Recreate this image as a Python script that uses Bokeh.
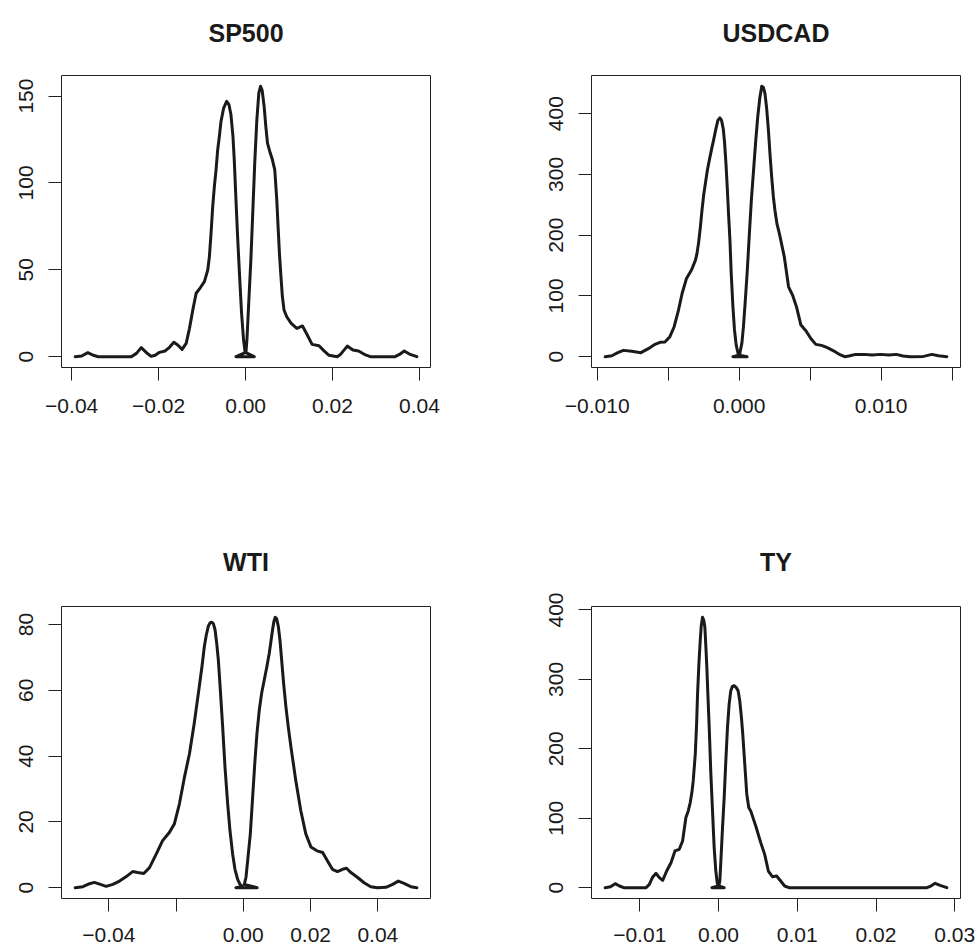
from bokeh.plotting import figure
from bokeh.layouts import column, row
from bokeh.models import FixedTicker, Range1d
from bokeh.core.properties import value
from bokeh.embed import file_html
from bokeh.resources import INLINE

# ---------------- data ----------------
titles = ["SP500", "USDCAD", "WTI", "TY"]

sp500_x = [-0.0392, -0.0377, -0.0363, -0.0350, -0.0339, -0.0263, -0.0251, -0.0240, -0.0228, -0.0217,
           -0.0208, -0.0198, -0.0185, -0.0175, -0.0165, -0.0156, -0.0146, -0.01366, -0.0129, -0.01214,
           -0.01137, -0.01038, -0.00947, -0.0087, -0.00832, -0.00794, -0.00756, -0.00718, -0.00679, -0.00641,
           -0.00603, -0.00565, -0.00504, -0.00435, -0.00382, -0.00336, -0.0029, -0.0026, -0.00221, -0.00183,
           -0.00137, -0.00092, -0.00046, -0.00008, -0.0022, 0.0020, 0.00008,
           0.00031, 0.00076, 0.00122, 0.00168, 0.00214, 0.0026, 0.00305, 0.00344, 0.00382, 0.00427,
           0.00466, 0.00504, 0.00557, 0.00618, 0.00672, 0.00718, 0.00748, 0.00779, 0.00809, 0.00847,
           0.00885, 0.00947, 0.0105, 0.0118, 0.0131, 0.0142, 0.0153, 0.0169, 0.0180, 0.0192,
           0.0211, 0.0218, 0.0234, 0.0247, 0.0260, 0.0276, 0.0287, 0.0344, 0.0354, 0.0365, 0.0377, 0.0394]
sp500_y = [0.0, 0.4, 2.3, 0.8, 0.0, 0.0, 1.9, 5.2, 2.3, 0.2,
           0.8, 2.5, 3.3, 5.4, 8.3, 6.7, 4.2, 7.7, 16.3, 26.9,
           36.5, 39.8, 43.2, 49.9, 57.6, 71.1, 86.4, 97.9, 107.5, 119.1,
           126.8, 135.4, 143.1, 146.9, 145.0, 139.2, 126.8, 113.3, 90.3, 69.1,
           46.1, 25.0, 9.6, 2.3, 0.0, 0.0, 2.3,
           9.6, 32.6, 55.7, 84.5, 113.3, 136.4, 151.7, 155.6, 153.3, 144.0,
           132.5, 122.9, 118.1, 113.3, 107.5, 90.3, 74.9, 59.5, 48.0, 34.6,
           26.9, 23.0, 19.2, 16.3, 17.7, 12.5, 7.1, 6.3, 3.5, 0.8,
           0.0, 1.2, 6.1, 3.8, 3.3, 1.0, 0.0, 0.0, 1.3, 3.3, 1.5, 0.0]

usdcad_x = [-0.00944, -0.00897, -0.00855, -0.00815, -0.00757, -0.00692, -0.0064, -0.00593, -0.00558, -0.00523,
            -0.00488, -0.00458, -0.0043, -0.00402, -0.00371, -0.00336, -0.00308, -0.00297, -0.00285, -0.00273,
            -0.00262, -0.0025, -0.00238, -0.00224, -0.00208, -0.00192, -0.00178, -0.00164, -0.0015, -0.00136,
            -0.00124, -0.00112, -0.00103, -0.00093, -0.00084, -0.00075, -0.00065, -0.00056, -0.00044, -0.00033,
            -0.00021, -0.00009, -0.00002, -0.00044, 0.00056, 0.00003,
            0.00009, 0.00019, 0.0003, 0.00042, 0.00056, 0.00072, 0.00086, 0.00103, 0.00117, 0.00131,
            0.00145, 0.00159, 0.00171, 0.00182, 0.00194, 0.00206, 0.00217, 0.00229, 0.00241, 0.00252,
            0.00266, 0.00283, 0.00318, 0.00348, 0.00376, 0.00404, 0.00435, 0.0047, 0.00505, 0.0054,
            0.0058, 0.00621, 0.00668, 0.0071, 0.00743, 0.00773, 0.0082, 0.00879, 0.00937, 0.00995,
            0.01054, 0.01107, 0.01154, 0.01206, 0.01299, 0.01357, 0.01404, 0.01463]
usdcad_y = [0.0, 1.6, 6.6, 10.4, 8.8, 6.6, 13.2, 20.3, 23.6, 24.1,
            32.9, 49.3, 74.0, 104.0, 128.8, 142.5, 158.9, 170.0, 189.0, 214.0,
            241.0, 266.0, 285.0, 307.0, 326.0, 344.0, 359.0, 375.0, 389.0, 393.0,
            389.0, 375.0, 353.0, 318.0, 279.0, 236.0, 192.0, 137.0, 82.0, 44.0,
            19.0, 6.6, 2.5, 0.0, 0.0, 2.5,
            11.0, 22.0, 49.0, 88.0, 137.0, 203.0, 258.0, 312.0, 356.0, 395.0,
            425.0, 445.0, 443.0, 433.0, 408.0, 373.0, 334.0, 296.0, 263.0, 241.0,
            219.0, 203.0, 164.4, 115.0, 101.4, 82.0, 52.0, 42.7, 30.0, 20.3,
            18.6, 14.8, 9.3, 3.3, 0.0, 1.1, 3.8, 3.8, 2.7, 3.8,
            2.7, 3.8, 1.1, 0.0, 0.5, 3.8, 1.6, 0.0]

wti_x = [-0.05, -0.0477, -0.0457, -0.0443, -0.0425, -0.0408, -0.0388, -0.0368, -0.0349, -0.0329,
         -0.0314, -0.0296, -0.0279, -0.0259, -0.024, -0.022, -0.0205, -0.019, -0.0175, -0.016,
         -0.0146, -0.0131, -0.01228, -0.01158, -0.01099, -0.0104, -0.0099, -0.00941, -0.00891, -0.00842,
         -0.00792, -0.00743, -0.00683, -0.00614, -0.00545, -0.00465, -0.00396, -0.00317, -0.00248, -0.00168,
         -0.00099, -0.0003, -0.0022, 0.0041, 0.0003,
         0.00079, 0.00139, 0.00208, 0.00277, 0.00347, 0.00406, 0.00475, 0.00545, 0.00624, 0.00703,
         0.00772, 0.00822, 0.00871, 0.00911, 0.0095, 0.0099, 0.0104, 0.01089, 0.01139, 0.01198,
         0.01267, 0.01337, 0.01416, 0.0156, 0.0171, 0.0186, 0.0201, 0.0219, 0.0236, 0.025,
         0.0265, 0.028, 0.0295, 0.0307, 0.032, 0.034, 0.0359, 0.0379, 0.0399, 0.0424,
         0.0444, 0.0461, 0.0478, 0.0498, 0.0516]
wti_y = [0.0, 0.3, 1.2, 1.6, 1.0, 0.4, 1.0, 2.0, 3.3, 4.9,
         4.6, 4.3, 6.1, 10.2, 14.3, 16.8, 19.4, 25.5, 33.6, 40.8,
         49.9, 61.1, 67.3, 73.4, 76.9, 79.5, 80.5, 80.7, 80.3, 78.5,
         74.4, 69.3, 60.1, 48.9, 36.7, 25.5, 17.3, 10.2, 5.6, 2.5,
         1.0, 0.4, 0.0, 0.0, 1.0,
         3.1, 9.2, 16.3, 27.5, 38.7, 46.9, 54.0, 59.1, 63.2, 67.3,
         71.3, 74.9, 78.5, 81.0, 82.2, 81.8, 79.5, 75.4, 69.3, 62.2,
         55.0, 48.9, 42.8, 32.6, 23.4, 16.3, 12.4, 11.2, 10.7, 8.2,
         5.6, 4.9, 5.6, 5.9, 4.6, 3.1, 1.5, 0.3, 0.0, 0.1,
         1.0, 2.0, 1.3, 0.3, 0.0]

ty_x = [-0.01439, -0.01371, -0.01312, -0.01257, -0.01203, -0.0092, -0.00878, -0.00835, -0.00793, -0.00751,
        -0.00709, -0.00658, -0.00603, -0.00553, -0.00498, -0.00456, -0.00414, -0.00384, -0.00359, -0.00338,
        -0.00321, -0.00295, -0.00278, -0.00266, -0.00249, -0.00232, -0.00219, -0.00203, -0.00186, -0.00173,
        -0.0016, -0.00148, -0.00135, -0.00118, -0.00097, -0.00076, -0.00055, -0.00034, -0.00017, -0.00004,
        -0.00084, 0.00072, 0.00004,
        0.00017, 0.0003, 0.00051, 0.00072, 0.00093, 0.00114, 0.00135, 0.00156, 0.00177, 0.00198,
        0.00224, 0.00249, 0.0027, 0.00291, 0.00308, 0.00325, 0.00342, 0.00359, 0.00384, 0.00409,
        0.00473, 0.00536, 0.00586, 0.00633, 0.00684, 0.00738, 0.00789, 0.0084, 0.00895, 0.02646,
        0.02696, 0.02751, 0.02814, 0.02899]
ty_y = [0.0, 1.4, 5.8, 2.4, 0.0, 0.0, 4.8, 15.4, 20.7, 14.4,
        10.6, 24.0, 36.0, 52.9, 55.3, 67.3, 101.0, 110.6, 122.6, 137.0,
        153.8, 192.3, 235.6, 278.8, 322.1, 355.8, 377.4, 389.4, 384.6, 375.0,
        346.2, 317.3, 278.8, 230.8, 163.5, 110.6, 57.7, 24.0, 7.2, 2.5,
        0.0, 0.0, 2.5,
        9.6, 38.5, 86.5, 129.8, 182.7, 230.8, 264.4, 283.7, 289.9, 290.9,
        288.5, 283.7, 269.2, 245.2, 221.2, 192.3, 163.5, 134.6, 115.4, 110.6,
        88.9, 64.9, 48.0, 24.0, 15.9, 16.8, 9.6, 2.4, 0.0, 0.0,
        2.4, 6.3, 3.4, 0.0]

# x ticks and their labels ("" = tick drawn without a label)
sp500_xticks = [-0.04, -0.02, 0.0, 0.02, 0.04]
sp500_xlabels = ["\u22120.04", "\u22120.02", "0.00", "0.02", "0.04"]
usdcad_xticks = [-0.010, -0.005, 0.0, 0.005, 0.010, 0.015]
usdcad_xlabels = ["\u22120.010", "", "0.000", "", "0.010", ""]
wti_xticks = [-0.04, -0.02, 0.0, 0.02, 0.04]
wti_xlabels = ["\u22120.04", "", "0.00", "0.02", "0.04"]
ty_xticks = [-0.01, 0.0, 0.01, 0.02, 0.03]
ty_xlabels = ["\u22120.01", "0.00", "0.01", "0.02", "0.03"]

sp500_yticks = [0, 50, 100, 150]
usdcad_yticks = [0, 100, 200, 300, 400]
wti_yticks = [0, 20, 40, 60, 80]
ty_yticks = [0, 100, 200, 300, 400]

# ---------------- styling ----------------
FONT = "Liberation Sans"
INK = "#1a1a1a"
FW, FH = 369, 292
TITLE_H = 45


def pad(vals):
    lo, hi = min(vals), max(vals)
    d = (hi - lo) * 0.04
    return lo - d, hi + d


def title_strip(text, left, right, baseline_from_top):
    """A thin figure above a panel that carries its bold centred title."""
    t = figure(frame_width=FW, frame_height=TITLE_H,
               min_border_left=left, min_border_right=right,
               min_border_top=0, min_border_bottom=0,
               x_range=Range1d(0, 1), y_range=Range1d(0, TITLE_H),
               x_axis_location=None, y_axis_location=None,
               output_backend="svg", toolbar_location=None, tools="",
               background_fill_color="white", border_fill_color="white")
    t.outline_line_color = None
    t.grid.visible = False
    t.text(x=[0.5], y=[TITLE_H - baseline_from_top], text=[text],
           text_align="center", text_baseline="alphabetic",
           text_font=value(FONT), text_font_size=value("25px"),
           text_font_style=value("bold"), text_color=INK)
    return t


def panel(xs, ys, xticks, xlabels, yticks, left, right, top, bottom, xstandoff):
    x0, x1 = pad(xs)
    y0, y1 = pad(ys)
    p = figure(frame_width=FW, frame_height=FH,
               min_border_left=left, min_border_right=right,
               min_border_top=top, min_border_bottom=bottom,
               x_range=Range1d(x0, x1), y_range=Range1d(y0, y1),
               output_backend="svg", toolbar_location=None, tools="",
               background_fill_color="white", border_fill_color="white")

    p.outline_line_color = "#222222"
    p.outline_line_width = 1
    p.outline_line_alpha = 1.0
    p.grid.visible = False

    for ax in (p.xaxis[0], p.yaxis[0]):
        ax.axis_line_color = None
        ax.major_tick_line_color = "#222222"
        ax.major_tick_line_width = 1
        ax.major_tick_in = 0
        ax.major_tick_out = 13
        ax.minor_tick_line_color = None
        ax.major_label_text_font = FONT
        ax.major_label_text_font_size = "21px"
        ax.major_label_text_color = INK

    p.xaxis.ticker = FixedTicker(ticks=xticks)
    p.xaxis.major_label_overrides = {t: l for t, l in zip(xticks, xlabels)}
    p.xaxis.major_label_standoff = xstandoff

    p.yaxis.ticker = FixedTicker(ticks=yticks)
    p.yaxis.major_label_overrides = {t: str(t) for t in yticks}
    p.yaxis.major_label_orientation = "vertical"
    p.yaxis.major_label_standoff = 15

    p.line(xs, ys, line_color=INK, line_width=3, line_join="round", line_cap="round")
    return p


t1 = title_strip(titles[0], 61, 108, 32)
t2 = title_strip(titles[1], 53, 17, 32)
p1 = panel(sp500_x, sp500_y, sp500_xticks, sp500_xlabels, sp500_yticks, 61, 108, 30, 164, 18)
p2 = panel(usdcad_x, usdcad_y, usdcad_xticks, usdcad_xlabels, usdcad_yticks, 53, 17, 30, 164, 18)

t3 = title_strip(titles[2], 61, 108, 30)
t4 = title_strip(titles[3], 53, 17, 30)
p3 = panel(wti_x, wti_y, wti_xticks, wti_xlabels, wti_yticks, 61, 108, 30, 40, 16)
p4 = panel(ty_x, ty_y, ty_xticks, ty_xlabels, ty_yticks, 53, 17, 30, 40, 16)

layout = column(row(t1, t2, spacing=0), row(p1, p2, spacing=0),
                row(t3, t4, spacing=0), row(p3, p4, spacing=0), spacing=0)

open("out.html", "w").write(file_html(layout, INLINE))
